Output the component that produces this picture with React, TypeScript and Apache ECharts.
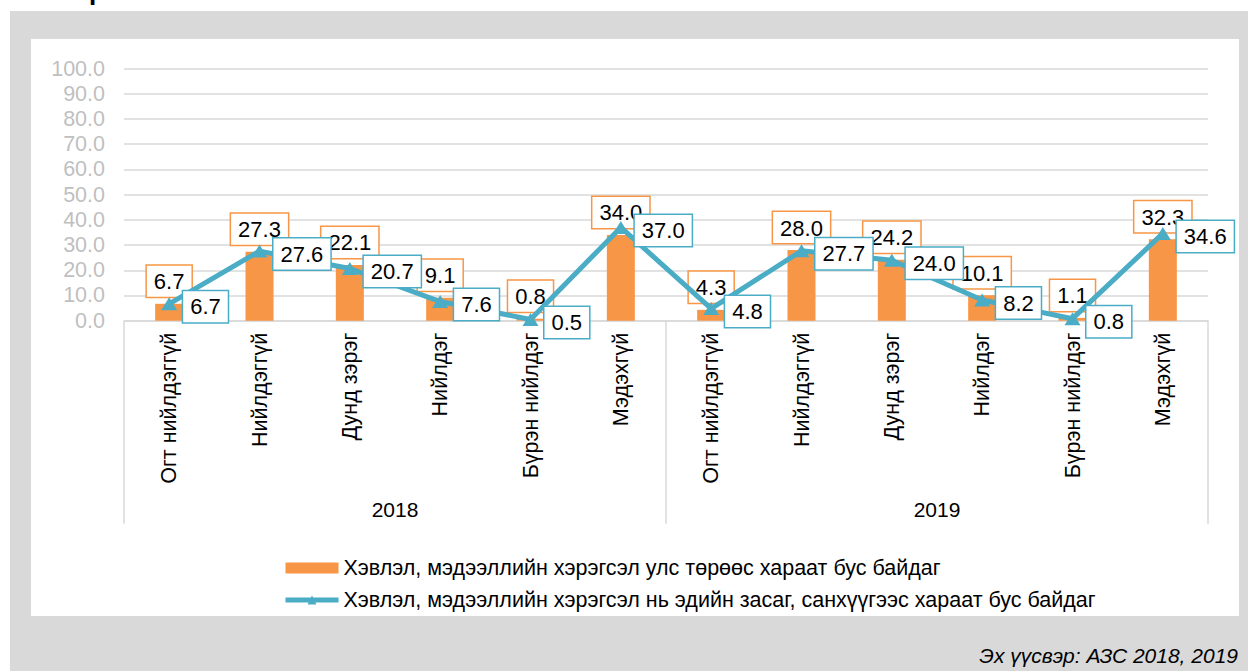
import React, { useEffect, useRef } from "react";
import * as echarts from "echarts";

const categories = [
  "Огт нийлдэггүй", "Нийлдэггүй", "Дунд зэрэг", "Нийлдэг", "Бүрэн нийлдэг", "Мэдэхгүй",
  "Огт нийлдэггүй", "Нийлдэггүй", "Дунд зэрэг", "Нийлдэг", "Бүрэн нийлдэг", "Мэдэхгүй",
];
const years = ["2018", "2019"];
const barName = "Хэвлэл, мэдээллийн хэрэгсэл улс төрөөс хараат бус байдаг";
const lineName = "Хэвлэл, мэдээллийн хэрэгсэл нь эдийн засаг, санхүүгээс хараат бус байдаг";
const barValues = [6.7, 27.3, 22.1, 9.1, 0.8, 34.0, 4.3, 28.0, 24.2, 10.1, 1.1, 32.3];
const lineValues = [6.7, 27.6, 20.7, 7.6, 0.5, 37.0, 4.8, 27.7, 24.0, 8.2, 0.8, 34.6];
const yTicks = { min: 0, max: 100, interval: 10 };
const sourceText = "Эх үүсвэр: АЗС 2018, 2019";

const FONT = "'Liberation Sans', Arial, sans-serif";
const ORANGE = "#F79646";
const TEAL = "#4BACC6";

export default function App() {
  const ref = useRef<HTMLDivElement>(null);
  useEffect(() => {
    if (!ref.current) return;
    const chart = echarts.init(ref.current, null, { renderer: "svg" });
    chart.setOption({
      animation: false,
      backgroundColor: "#ffffff",
      textStyle: { fontFamily: FONT },
      graphic: [
        { type: "rect", z: -100, silent: true, shape: { x: 10, y: 11, width: 1238, height: 660 }, style: { fill: "#d9d9d9" } },
        { type: "rect", z: -99, silent: true, shape: { x: 31, y: 39, width: 1208, height: 577 }, style: { fill: "#ffffff" } },
        { type: "text", z: -98, silent: true, x: 89, y: -9, style: { text: "р", font: `bold 26px ${FONT}`, fill: "#000", verticalAlign: "middle" } },
        { type: "text", silent: true, x: 1238, y: 655, style: { text: sourceText, font: `italic 21px ${FONT}`, fill: "#000", align: "right", verticalAlign: "middle" } },
      ],
      grid: { left: 124, right: 40, top: 68.5, bottom: 350.3, containLabel: false },
      legend: {
        orient: "vertical",
        left: 278,
        top: 552,
        itemWidth: 53,
        itemHeight: 11,
        itemGap: 10,
        textStyle: { fontSize: 21.5, color: "#000", fontFamily: FONT },
        data: [
          { name: barName, icon: "rect" },
          { name: lineName, lineStyle: { width: 5 } },
        ],
      },
      xAxis: [
        {
          type: "category",
          data: categories,
          axisLine: { show: true, lineStyle: { color: "#d9d9d9", width: 1.5 } },
          axisTick: { show: false },
          axisLabel: { interval: 0, rotate: 90, margin: 12, fontSize: 21.5, color: "#000", fontFamily: FONT },
        },
        {
          type: "category",
          data: years,
          position: "bottom",
          axisLine: { show: false },
          axisTick: { show: true, interval: 0, length: 203, lineStyle: { color: "#d9d9d9", width: 1.5 } },
          axisLabel: { interval: 0, margin: 178, fontSize: 21, color: "#000", fontFamily: FONT },
        },
      ],
      yAxis: {
        type: "value",
        min: yTicks.min,
        max: yTicks.max,
        interval: yTicks.interval,
        axisLine: { show: false },
        axisTick: { show: false },
        splitLine: { lineStyle: { color: "#d9d9d9", width: 1.5 } },
        axisLabel: { margin: 19, fontSize: 21.5, color: "#bfbfbf", fontFamily: FONT, formatter: (v: number) => v.toFixed(1) },
      },
      series: [
        {
          name: barName,
          type: "bar",
          xAxisIndex: 0,
          data: barValues,
          barWidth: 28,
          itemStyle: { color: ORANGE },
          z: 2,
          label: {
            show: true,
            position: "top",
            distance: 7,
            formatter: (p: any) => Number(p.value).toFixed(1),
            fontSize: 22,
            color: "#000",
            fontFamily: FONT,
            backgroundColor: "#fff",
            borderColor: ORANGE,
            borderWidth: 1.5,
            padding: [5, 7, 4, 7],
          },
        },
        {
          name: lineName,
          type: "line",
          xAxisIndex: 0,
          data: lineValues,
          z: 3,
          lineStyle: { color: TEAL, width: 5 },
          itemStyle: { color: TEAL },
          symbol: "triangle",
          symbolSize: [16, 13],
          label: {
            show: true,
            position: "right",
            distance: 6,
            offset: [0, 3],
            formatter: (p: any) => Number(p.value).toFixed(1),
            fontSize: 22,
            color: "#000",
            fontFamily: FONT,
            backgroundColor: "#fff",
            borderColor: TEAL,
            borderWidth: 1.5,
            padding: [5, 7, 4, 7],
          },
        },
      ],
    });
    return () => chart.dispose();
  }, []);
  return <div ref={ref} style={{ position: "fixed", left: 0, top: 0, width: 1248, height: 671 }} />;
}
